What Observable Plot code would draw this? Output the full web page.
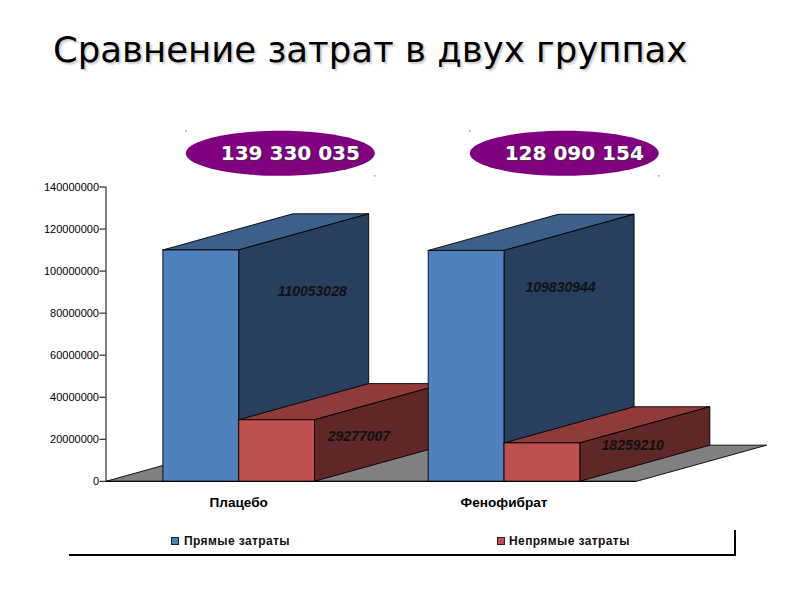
<!DOCTYPE html>
<html><head><meta charset="utf-8">
<script src="https://cdn.jsdelivr.net/npm/d3@7"></script>
<script src="https://cdn.jsdelivr.net/npm/@observablehq/plot@0.6"></script>
<style>
html,body{margin:0;padding:0;background:#fff;width:800px;height:600px;overflow:hidden}
#title{position:absolute;left:53px;top:29px;font:35.5px "DejaVu Sans",sans-serif;color:#000;white-space:nowrap;text-shadow:2px 2px 2px #ccc}
#chart{position:absolute;left:0;top:120px}
#legend{position:absolute;left:69px;top:530px;width:665px;height:24px;border-bottom:2px solid #000;border-right:2px solid #000}
.sw{position:absolute;top:7px;width:8px;height:8px;border:.8px solid #222;box-sizing:border-box}
.lt{position:absolute;top:4px;font:bold 12px "Liberation Sans",sans-serif;letter-spacing:.4px;white-space:nowrap;color:#111}
</style></head><body>
<div id="title"></div><div id="chart"></div><div id="legend"></div>
<script>
const titleText = "Сравнение затрат в двух группах";
const groups = ["Плацебо", "Фенофибрат"];
const seriesNames = ["Прямые затраты", "Непрямые затраты"];
const direct = [110053028, 109830944];
const indirect = [29277007, 18259210];
const totals = [139330035, 128090154];
const yTicks = [0, 20e6, 40e6, 60e6, 80e6, 100e6, 120e6, 140e6];

// layout, in scale units
const gap = 0.2143, barW = 0.2857, depthX = 0.49, depthY = 17.2e6;
const ovalX = [0.657, 1.727], ovalY = 156e6;
const directLabelY = [90.2e6, 92.1e6], indirectLabelY = [21.4e6, 17.1e6];
const directLabelX = [0.777, 1.713], indirectLabelX = [0.953, 1.985];

const palette = [
  {front: "#4f81bd", top: "#3c6089", side: "#283f5e"},
  {front: "#c0504d", top: "#8f3b39", side: "#5f2725"}
];
const poly = pts => [...pts, pts[0]].map(([x, y]) => ({x, y}));
const face = (pts, fill) => Plot.line(poly(pts), {x: "x", y: "y", fill, stroke: "#000", strokeWidth: 0.9});
function bar(x0, v, c) {
  const x1 = x0 + barW;
  return [
    face([[x0, v], [x1, v], [x1 + depthX, v + depthY], [x0 + depthX, v + depthY]], c.top),
    face([[x1, 0], [x1 + depthX, depthY], [x1 + depthX, v + depthY], [x1, v]], c.side),
    face([[x0, 0], [x1, 0], [x1, v], [x0, v]], c.front)
  ];
}
const bars = groups.flatMap((g, i) => [
  ...bar(i + gap, direct[i], palette[0]),
  ...bar(i + gap + barW, indirect[i], palette[1])
]);

const spaced = d3.formatLocale({decimal: ".", thousands: " ", grouping: [3], currency: ["", ""]}).format(",");
const ellipse = {draw(c) {
  const a = 94.5, b = 22.5, k = 0.5523;
  c.moveTo(-a, 0);
  c.bezierCurveTo(-a, -k * b, -k * a, -b, 0, -b);
  c.bezierCurveTo(k * a, -b, a, -k * b, a, 0);
  c.bezierCurveTo(a, k * b, k * a, b, 0, b);
  c.bezierCurveTo(-k * a, b, -a, k * b, -a, 0);
  c.closePath();
}};
const idx = totals.map((_, i) => i);
const valueLabel = (vals, xs, ys) => Plot.text(vals, {
  x: (_, i) => xs[i], y: (_, i) => ys[i], text: d => String(d),
  fontSize: 14, fontWeight: "bold", fontStyle: "italic", fill: "#111"
});
const speck = (dx, dy) => Plot.dot(idx, {x: i => ovalX[i], y: ovalY, dx, dy, r: 0.6, fill: "#333", stroke: "none"});

const plot = Plot.plot({
  width: 800, height: 400,
  marginLeft: 105.5, marginRight: 0, marginTop: 66.5, marginBottom: 39,
  style: {fontFamily: "'Liberation Sans',sans-serif", background: "transparent", overflow: "visible"},
  x: {domain: [0, 2], range: [105.5, 636.2]},
  y: {domain: [0, 140e6], range: [360.8, 66.5]},
  marks: [
    face([[0, 0], [2, 0], [2 + depthX, depthY], [depthX, depthY]], "#808080"),
    ...bars,
    Plot.ruleX([0], {y1: 0, y2: 140e6, stroke: "#000", strokeWidth: 1}),
    Plot.ruleY([0], {x1: 0, x2: 2, stroke: "#000", strokeWidth: 1}),
    Plot.axisY({ticks: yTicks, tickFormat: d => String(d), tickSize: 6, tickPadding: 1, label: null, fontSize: 11, fill: "#000", stroke: "#000"}),
    Plot.axisX({ticks: groups.map((_, i) => i + 0.5), tickFormat: (_, i) => groups[i], tickSize: 0, tickPadding: 16, label: null, fontSize: 13.6, fontWeight: "bold", fill: "#000"}),
    valueLabel(direct, directLabelX, directLabelY),
    valueLabel(indirect, indirectLabelX, indirectLabelY),
    Plot.dot(idx, {x: i => ovalX[i], y: ovalY, symbol: ellipse, fill: "#800080", stroke: "none"}),
    speck(-94.5, -22.5),
    speck(94.5, 22.5),
    Plot.text(totals, {x: (_, i) => ovalX[i], y: ovalY, text: d => spaced(d), dx: 11, dy: 1, fontSize: 20, fontWeight: "bold", fontFamily: "DejaVu Sans", fill: "#3a3a3a"}),
    Plot.text(totals, {x: (_, i) => ovalX[i], y: ovalY, text: d => spaced(d), dx: 10, fontSize: 20, fontWeight: "bold", fontFamily: "DejaVu Sans", fill: "#fff"})
  ]
});
document.getElementById("chart").append(plot);
document.getElementById("title").textContent = titleText;
const legend = document.getElementById("legend");
[[102, 115], [428, 440]].forEach(([sx, tx], i) => {
  const s = document.createElement("div"); s.className = "sw"; s.style.left = sx + "px"; s.style.background = palette[i].front;
  const t = document.createElement("div"); t.className = "lt"; t.style.left = tx + "px"; t.textContent = seriesNames[i];
  legend.append(s, t);
});
</script></body></html>
